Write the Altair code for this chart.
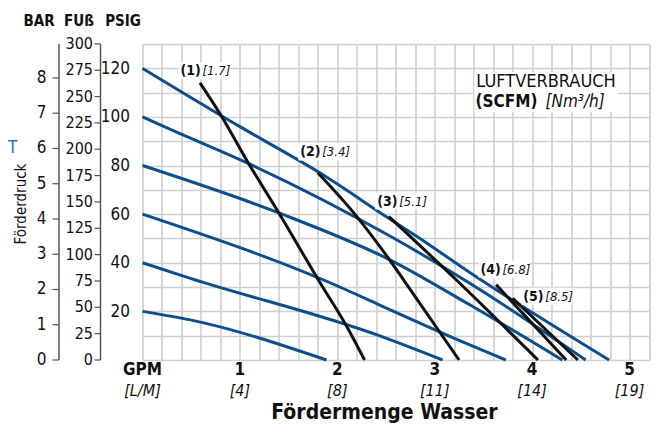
import altair as alt
import pandas as pd
import numpy as np

# ---------------- data ----------------
# blue curves: inlet air pressure (psig) -> discharge pressure vs flow
blue_levels = [120, 100, 80, 60, 40, 20]
gpm_120 = [0, 1.0, 1.82, 2.54, 2.81, 3.36, 4.79]
psi_120 = [120, 96, 77, 58, 51, 36, 0]
gpm_100 = [0, 0.28, 1.08, 2.54, 3.36, 4.55]
psi_100 = [100, 95, 81, 51, 31.6, 0]
gpm_80 = [0, 1.4, 2.54, 3.36, 4.31]
psi_80 = [80, 60.5, 41.2, 22.7, 0]
gpm_60 = [0, 2.09, 2.43, 3.36, 3.73]
psi_60 = [60, 28.9, 22.7, 6.2, 0]
gpm_40 = [0, 0.5, 2.43, 3.08]
psi_40 = [40, 33.5, 10, 0]
gpm_20 = [0, 0.49, 1.89]
psi_20 = [20, 16.5, 0]

# black curves: air consumption
air_1_gpm = [0.59, 0.8, 1.08, 1.4, 1.82, 2.1, 2.28]
air_1_psi = [114, 101, 81.5, 60.5, 32, 13.6, 0]
air_2_gpm = [1.8, 2.2, 2.54, 2.68, 3.25]
air_2_psi = [77, 59, 41, 33, 0]
air_3_gpm = [2.53, 3.22, 4.06]
air_3_psi = [59, 33, 0]
air_4_gpm = [3.63, 4.35]
air_4_psi = [31, 0]
air_5_gpm = [3.80, 4.47]
air_5_psi = [25.4, 0]

air_num = ["(1)", "(2)", "(3)", "(4)", "(5)"]
air_val = ["[1.7]", "[3.4]", "[5.1]", "[6.8]", "[8.5]"]
air_lbl_gpm = [0.39, 1.62, 2.41, 3.47, 3.91]
air_lbl_psi = [118.8, 85.4, 65.2, 37.1, 26.0]

gpm_ticks = [0, 1, 2, 3, 4, 5]
gpm_labels = ["GPM", "1", "2", "3", "4", "5"]
lpm_labels = ["[L/M]", "[4]", "[8]", "[11]", "[14]", "[19]"]

bar_ticks = [0, 1, 2, 3, 4, 5, 6, 7, 8]
ft_ticks = [0, 25, 50, 75, 100, 125, 150, 175, 200, 225, 250, 275, 300]
PSI_PER_BAR = 14.5038
FT_PER_PSI = 2.3067

# ---------------- frames ----------------
blue_sets = [(gpm_120, psi_120), (gpm_100, psi_100), (gpm_80, psi_80),
             (gpm_60, psi_60), (gpm_40, psi_40), (gpm_20, psi_20)]
rows = []
for lvl, (g, p) in zip(blue_levels, blue_sets):
    for i, (a, b) in enumerate(zip(g, p)):
        rows.append({"curve": f"b{lvl}", "gpm": a, "psi": b, "o": i})
blue_df = pd.DataFrame(rows)

black_sets = [(air_1_gpm, air_1_psi), (air_2_gpm, air_2_psi), (air_3_gpm, air_3_psi),
              (air_4_gpm, air_4_psi), (air_5_gpm, air_5_psi)]
rows = []
for k, (g, p) in enumerate(black_sets):
    for i, (a, b) in enumerate(zip(g, p)):
        rows.append({"curve": f"k{k}", "gpm": a, "psi": b, "o": i})
black_df = pd.DataFrame(rows)

lbl_df = pd.DataFrame({"gpm": air_lbl_gpm, "psi": air_lbl_psi, "num": air_num, "val": air_val})
xt_df = pd.DataFrame({"gpm": gpm_ticks, "top": gpm_labels, "bot": lpm_labels})
bar_df = pd.DataFrame({"psi": [b * PSI_PER_BAR for b in bar_ticks], "lab": [str(b) for b in bar_ticks]})
ft_df = pd.DataFrame({"psi": [f / FT_PER_PSI for f in ft_ticks], "lab": [str(f) for f in ft_ticks]})

FONT = "DejaVu Sans Condensed, Liberation Sans Narrow, sans-serif"
GRID = "#cfcfcf"
BLUE = "#0d4e8c"
INK = "#111111"

grid_x = [round(v, 1) for v in np.arange(0, 5.21, 0.2)]
grid_y = list(range(0, 131, 10))

XS = alt.Scale(domain=[0, 5.2], nice=False, zero=False)
YS = alt.Scale(domain=[0, 130], nice=False, zero=False)


def X(field="gpm"):
    return alt.X(f"{field}:Q", scale=XS,
                 axis=alt.Axis(values=grid_x, grid=True, labels=False, ticks=False,
                               domain=False, title=None, gridColor=GRID, gridWidth=1.6))


def Y(field="psi"):
    return alt.Y(f"{field}:Q", scale=YS,
                 axis=alt.Axis(values=grid_y, grid=True, ticks=False, domain=False, title=None,
                               gridColor=GRID, gridWidth=1.6,
                               labelExpr="(datum.value % 20 == 0 && datum.value > 0 && datum.value < 130) ? datum.label : ''",
                               labelFont=FONT, labelFontSize=17, labelColor=INK, labelPadding=13))


def label_at(txt, px, py, size, weight="normal", style="normal", align="center",
             color=INK, angle=None, baseline="middle"):
    kw = dict(align=align, baseline=baseline, font=FONT, fontSize=size, fontWeight=weight,
              fontStyle=style, color=color)
    if angle is not None:
        kw["angle"] = angle
    return alt.Chart(pd.DataFrame({"t": [txt]})).mark_text(**kw).encode(
        x=alt.value(px), y=alt.value(py), text="t:N")


blue_layer = alt.Chart(blue_df).mark_line(color=BLUE, strokeWidth=3, interpolate="monotone").encode(
    x=X(), y=Y(), detail="curve:N", order="o:Q")
black_layer = alt.Chart(black_df).mark_line(color=INK, strokeWidth=3, interpolate="monotone").encode(
    x=X(), y=Y(), detail="curve:N", order="o:Q")

lbl_bg = alt.Chart(lbl_df).mark_rect(color="white", xOffset=-2, x2Offset=49, yOffset=-9, y2Offset=8).encode(
    x=X(), x2="gpm:Q", y=Y(), y2="psi:Q")
lbl_num = alt.Chart(lbl_df).mark_text(align="left", baseline="middle", font=FONT, fontSize=14,
                                      fontWeight="bold", color=INK).encode(x=X(), y=Y(), text="num:N")
lbl_val = alt.Chart(lbl_df).mark_text(align="left", baseline="middle", font=FONT, fontSize=13,
                                      fontStyle="italic", color=INK, dx=22).encode(x=X(), y=Y(), text="val:N")

# legend box (pixel positions inside the plot area)
box = alt.Chart(pd.DataFrame({"k": [0]})).mark_rect(color="white").encode(
    x=alt.value(332), x2=alt.value(475), y=alt.value(28), y2=alt.value(68))
t_luft = label_at("LUFTVERBRAUCH", 403.5, 38, 18)
t_scfm = label_at("(SCFM)", 395, 57.5, 17, weight="bold", align="right")
t_nm = label_at("[Nm\u00b3/h]", 403, 57.5, 17, style="italic", align="left")

# x-axis label rows
xt_top = alt.Chart(xt_df).mark_text(baseline="middle", font=FONT, fontSize=17, fontWeight="bold",
                                    color=INK).encode(x=X(), y=alt.value(326), text="top:N")
xt_bot = alt.Chart(xt_df).mark_text(baseline="middle", font=FONT, fontSize=16, fontStyle="italic",
                                    color=INK).encode(x=X(), y=alt.value(347), text="bot:N")
x_title = label_at("F\u00f6rdermenge Wasser", 242, 375, 21, weight="bold", baseline="alphabetic")

# BAR axis
bar_line = alt.Chart(pd.DataFrame({"k": [0]})).mark_rule(color="#555555", strokeWidth=1.5).encode(
    x=alt.value(-83.5), y=alt.value(0), y2=alt.value(316))
bar_tick = alt.Chart(bar_df).mark_rule(color="#555555", strokeWidth=1.2).encode(
    x=alt.value(-90), x2=alt.value(-83.5), y=Y())
bar_lab = alt.Chart(bar_df).mark_text(align="right", baseline="middle", font=FONT, fontSize=17,
                                      color=INK).encode(x=alt.value(-96), y=Y(), text="lab:N")
# FUSS axis
ft_line = alt.Chart(pd.DataFrame({"k": [0]})).mark_rule(color="#555555", strokeWidth=1.5).encode(
    x=alt.value(-42), y=alt.value(0), y2=alt.value(316))
ft_tick = alt.Chart(ft_df).mark_rule(color="#555555", strokeWidth=1.2).encode(
    x=alt.value(-48), x2=alt.value(-42), y=Y())
ft_lab = alt.Chart(ft_df).mark_text(align="right", baseline="middle", font=FONT, fontSize=16,
                                    color=INK).encode(x=alt.value(-49.5), y=Y(), text="lab:N")

h_bar = label_at("BAR", -103.5, -23, 15, weight="bold")
h_ft = label_at("FU\u00df", -63.5, -23, 15, weight="bold")
h_psi = label_at("PSIG", -19.5, -23, 15, weight="bold")
y_title = label_at("F\u00f6rderdruck", -122, 160, 15, angle=270)
stray = label_at("T", -134.5, 104, 17, align="left", color="#2a6db5")

chart = alt.layer(
    blue_layer, black_layer, lbl_bg, lbl_num, lbl_val, box, t_luft, t_scfm, t_nm,
    xt_top, xt_bot, x_title, bar_line, bar_tick, bar_lab, ft_line, ft_tick, ft_lab,
    h_bar, h_ft, h_psi, y_title, stray
).properties(
    width=506.5, height=316,
    autosize=alt.AutoSizeParams(type="none"),
    padding={"left": 134.5, "top": 36, "right": 2, "bottom": 64},
).configure_view(stroke=GRID, strokeWidth=1.6).configure(background="white")

chart.save("out.html", embed_options={"renderer": "svg", "actions": False})
